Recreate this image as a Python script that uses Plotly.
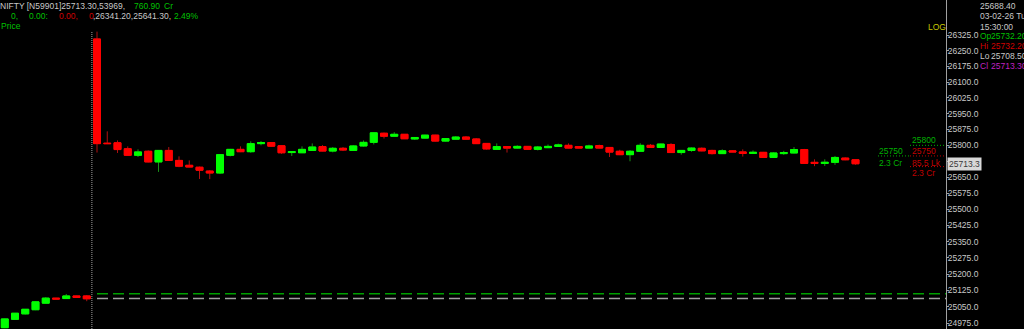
import math
import plotly.graph_objects as go

# ---------------- data (5-min NIFTY candles) ----------------
prev_open  = [24955, 24993, 25018, 25037, 25067, 25090, 25088, 25100, 25100]
prev_high  = [24997, 25022, 25040, 25075, 25094, 25091, 25109, 25101, 25104]
prev_low   = [24953, 24990, 25015, 25035, 25065, 25085, 25087, 25092, 25076]
prev_close = [24995, 25021, 25039, 25073, 25090, 25086, 25100, 25093, 25087]

today_open = [26306, 25810, 25812, 25784, 25753, 25772, 25722, 25776, 25729, 25706,
              25697, 25679, 25670, 25753, 25781, 25770, 25808, 25813, 25798, 25766,
              25765, 25776, 25794, 25773, 25786, 25776, 25797, 25814, 25857, 25843,
              25852, 25830, 25834, 25848, 25820, 25829, 25839, 25830, 25809, 25781,
              25794, 25787, 25795, 25781, 25789, 25795, 25800, 25794, 25787, 25799,
              25790, 25772, 25756, 25772, 25800, 25790, 25804, 25766, 25776, 25786,
              25776, 25761, 25774, 25769, 25762, 25767, 25743, 25761, 25764, 25780,
              25720, 25715, 25720, 25740, 25732.2]
today_high = [26341.2, 25866, 25823, 25795, 25781, 25776, 25778, 25792, 25748, 25729,
              25700, 25683, 25757, 25783, 25795, 25819, 25820, 25815, 25800, 25771,
              25795, 25809, 25801, 25792, 25792, 25801, 25823, 25860, 25860, 25862,
              25853, 25839, 25850, 25850, 25834, 25843, 25843, 25834, 25811, 25809,
              25796, 25800, 25796, 25797, 25804, 25808, 25809, 25795, 25803, 25803,
              25792, 25779, 25778, 25810, 25806, 25808, 25810, 25778, 25790, 25790,
              25779, 25781, 25776, 25781, 25776, 25769, 25767, 25774, 25792, 25783,
              25734, 25734, 25750, 25743, 25732.2]
today_low = [25766, 25806, 25764, 25750, 25745, 25720, 25675, 25727, 25697, 25697,
             25642, 25641.3, 25665, 25748, 25768, 25765, 25800, 25794, 25760, 25750,
             25764, 25775, 25772, 25767, 25773, 25775, 25794, 25804, 25832, 25842,
             25830, 25825, 25832, 25818, 25818, 25828, 25827, 25806, 25780, 25779,
             25766, 25785, 25780, 25776, 25787, 25794, 25786, 25786, 25786, 25786,
             25745, 25754, 25725, 25770, 25789, 25789, 25765, 25756, 25770, 25772,
             25757, 25759, 25768, 25747, 25760, 25741, 25741, 25755, 25762, 25714,
             25702, 25703, 25708, 25730, 25708.5]
today_close = [25808, 25808, 25780, 25753, 25769, 25722, 25776, 25729, 25702, 25698,
               25683, 25670, 25756, 25781, 25770, 25808, 25813, 25796, 25765, 25770,
               25781, 25792, 25773, 25786, 25778, 25797, 25814, 25859, 25843, 25852,
               25831, 25837, 25848, 25820, 25832, 25839, 25829, 25808, 25783, 25794,
               25787, 25795, 25781, 25792, 25795, 25802, 25787, 25787, 25797, 25787,
               25768, 25756, 25772, 25800, 25790, 25806, 25766, 25776, 25787, 25774,
               25761, 25774, 25769, 25762, 25767, 25743, 25764, 25766, 25780, 25715,
               25715, 25720, 25743, 25732, 25713.3]

ytick_values = [24975 + 75 * k for k in range(19)]
ytick_labels = [f"{v:.1f}" for v in ytick_values]

prev_close_level = 25088.6
prev_high_level = 25110
day_high = 26341.2
last_price = 25713.3
level_25800 = 25800
level_25750 = 25750
level_25700 = 25700

# ---------------- geometry ----------------
W, H = 1024, 329
AXIS_X = 946          # pixel position of price axis
STEP = 10.25          # pixels per candle
FIRST_X = 97          # pixel of first candle of the day
x_lo = -FIRST_X / STEP
x_hi = x_lo + AXIS_X / STEP
y_top_log = 4.423145
y_bot_log = 4.397053
y_bottom_val = 10 ** y_bot_log

def px2x(px):
    return x_lo + px / STEP

n_prev = len(prev_open)
xs = list(range(-n_prev, 0)) + list(range(len(today_open)))
O = prev_open + today_open
Hh = prev_high + today_high
L = prev_low + today_low
C = prev_close + today_close

GREEN = "#00ff00"
RED = "#ff0000"
GREEN_WICK = "#189018"
RED_WICK = "#b01010"

fig = go.Figure()

# wicks (darker)
fig.add_trace(go.Candlestick(
    x=xs, open=O, high=Hh, low=L, close=C,
    increasing=dict(line=dict(color=GREEN_WICK, width=1), fillcolor=GREEN),
    decreasing=dict(line=dict(color=RED_WICK, width=1), fillcolor=RED),
    hoverinfo="skip", showlegend=False))
# bright bodies
fig.add_trace(go.Candlestick(
    x=xs, open=O, close=C,
    high=[max(a, b) for a, b in zip(O, C)],
    low=[min(a, b) for a, b in zip(O, C)],
    increasing=dict(line=dict(color=GREEN, width=1), fillcolor=GREEN),
    decreasing=dict(line=dict(color=RED, width=1), fillcolor=RED),
    hoverinfo="skip", showlegend=False))

def hline(x0, x1, y, color, dash, width=1):
    fig.add_trace(go.Scatter(x=[x0, x1], y=[y, y], mode="lines",
                             line=dict(color=color, dash=dash, width=width),
                             hoverinfo="skip", showlegend=False))

# day separator
fig.add_trace(go.Scatter(x=[-0.5, -0.5], y=[y_bottom_val, day_high], mode="lines",
                         line=dict(color="#a0a0a0", dash="1px,1px", width=1),
                         hoverinfo="skip", showlegend=False))
# previous day levels
hline(0, x_hi, prev_high_level, "#00a000", "11px,5px", 1.5)
hline(0, x_hi, prev_close_level, "#a0a0a0", "11px,5px", 1.5)
# right side levels
hline(px2x(910), x_hi, level_25800, "#00b000", "1px,2px")
hline(px2x(878), px2x(910), level_25750, "#00b000", "1px,2px")
hline(px2x(910), x_hi, level_25750, "#c00000", "1px,2px")
hline(px2x(910), x_hi, level_25700, "#c00000", "1px,2px")

FONT = "Liberation Sans"
FS = 8.5
GRAY = "#c8c8c8"
TGREEN = "#00c000"
TRED = "#d00000"
MAG = "#c020c0"

anns = []
def ann(text, px, py, color, size=FS, **kw):
    d = dict(text=text, x=px / AXIS_X, y=1 - py / H, xref="paper", yref="paper",
             xanchor="left", yanchor="middle", showarrow=False, borderpad=0,
             font=dict(family=FONT, size=size, color=color))
    d.update(kw)
    anns.append(d)

# header
ann("NIFTY [N59901]25713.30,53969,", -1, 5.5, GRAY)
ann("760.90", 133, 5.5, TGREEN)
ann("Cr", 163, 5.5, TGREEN)
ann("0,", 10, 16, TGREEN)
ann("0.00:", 28, 16, TGREEN)
ann("0.00,", 58, 16, TRED)
ann("0", 88, 16, TRED)
ann(",26341.20,25641.30,", 92, 16, GRAY)
ann("2.49%", 173, 16, TGREEN)
ann("Price", 0, 26.3, TGREEN)

# LOG
ann("LOG", 927, 26.5, "#c8c800")

# data window
ann("25688.40", 979, 6, GRAY)
ann("03-02-26 Tu", 979, 16.3, GRAY)
ann("15:30:00", 979, 27, GRAY)
ann("Op", 979, 36, TGREEN)
ann("25732.20", 990, 36, TGREEN)
ann("Hi", 979, 46, TRED)
ann("25732.20", 990, 46, TRED)
ann("Lo", 979, 56, GRAY)
ann("25708.50", 990, 56, GRAY)
ann("Cl", 979, 66, MAG)
ann("25713.30", 990, 66, MAG)

# level labels
ann("25800", 911, 140, "#00b000")
ann("25750", 878, 150.7, "#00b000")
ann("25750", 911, 150.7, "#c00000")
ann("2.3 Cr", 878, 162.7, "#00b000")
ann("85.5 Lk", 911, 162.7, "#c00000")
ann("2.3 Cr", 911, 172.7, "#c00000")

# last price tag
anns.append(dict(text=f"{last_price:.1f}", x=947 / AXIS_X, y=math.log10(last_price),
                 xref="paper", yref="y", xanchor="left", yanchor="middle",
                 showarrow=False, bgcolor="#d8d8d8", borderpad=1,
                 font=dict(family=FONT, size=FS, color="#383838")))

fig.update_layout(
    template="none",
    width=W, height=H, autosize=False,
    margin=dict(l=0, r=W - AXIS_X, t=0, b=0, pad=0),
    paper_bgcolor="#000000", plot_bgcolor="#000000",
    showlegend=False,
    boxgap=0.32, boxgroupgap=0.0,
    annotations=anns,
    xaxis=dict(range=[x_lo, x_hi], visible=False, showgrid=False, zeroline=False,
               rangeslider=dict(visible=False), fixedrange=True),
    yaxis=dict(type="log", range=[y_bot_log, y_top_log], side="right",
               showgrid=False, zeroline=False, showline=True, linecolor="#a0a0a0",
               linewidth=1, ticks="outside", ticklen=2, tickcolor="#a0a0a0",
               ticklabelstandoff=-3,
               tickmode="array", tickvals=ytick_values, ticktext=ytick_labels,
               tickfont=dict(family=FONT, size=FS, color=GRAY),
               automargin=False, fixedrange=True),
)

fig.write_html("out.html", config={"displayModeBar": False, "staticPlot": True})
